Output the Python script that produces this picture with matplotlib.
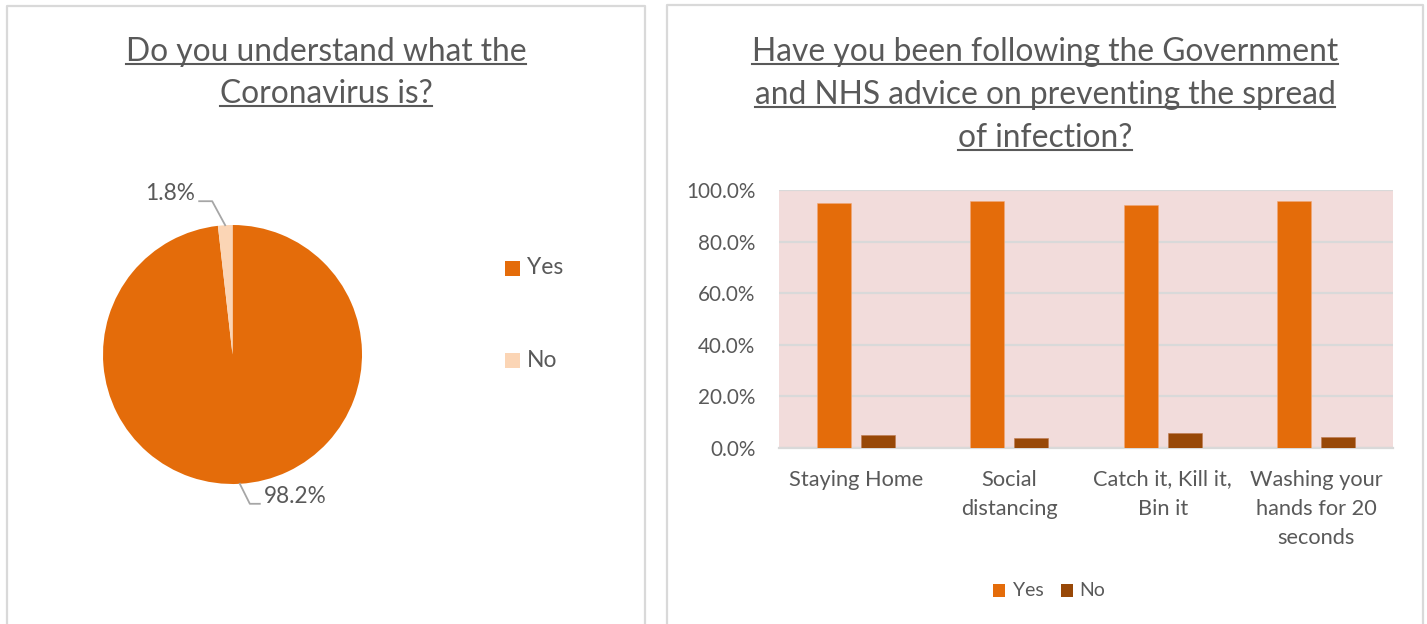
import matplotlib
matplotlib.use("Agg")
import matplotlib.pyplot as plt
from matplotlib.lines import Line2D
from matplotlib.patches import Rectangle
import numpy as np

# ---------------- data ----------------
pie_title = ["Do you understand what the", "Coronavirus is?"]
pie_labels = ["Yes", "No"]
pie_values = [98.2, 1.8]
pie_colors = ["#E46C0A", "#FBD5B5"]

bar_title = ["Have you been following the Government",
             "and NHS advice on preventing the spread",
             "of infection?"]
bar_categories = ["Staying Home", "Social\ndistancing",
                  "Catch it, Kill it,\nBin it", "Washing your\nhands for 20\nseconds"]
bar_yes = [0.948, 0.957, 0.942, 0.956]
bar_no = [0.049, 0.039, 0.057, 0.043]
bar_series = ["Yes", "No"]
bar_colors = ["#E46C0A", "#984807"]
y_ticks = [0.0, 0.2, 0.4, 0.6, 0.8, 1.0]

# ---------------- style ----------------
W, H = 1427, 624
TXT = "#595959"
GRID = "#D9D9D9"
FONT = "Lato"
plt.rcParams["font.family"] = [FONT, "DejaVu Sans"]

fig = plt.figure(figsize=(W / 100, H / 100), dpi=100)


def fx(px):
    return px / W


def fy(py):
    return 1 - py / H


# panel borders (open at the bottom)
for x0, x1, y0 in [(7, 645, 6), (667, 1423, 5)]:
    fig.add_artist(Line2D([fx(x0), fx(x0), fx(x1), fx(x1)],
                          [fy(H + 5), fy(y0), fy(y0), fy(H + 5)],
                          transform=fig.transFigure, color=GRID, lw=1.6))

# ---------------- titles (underlined) ----------------
title_texts = []
for lines, cx, base0, step in [(pie_title, 326, 61.0, 42.0),
                                (bar_title, 1045, 61.0, 43.0)]:
    for i, line in enumerate(lines):
        t = fig.text(fx(cx), fy(base0 + i * step), line, ha="center",
                     va="baseline", fontsize=22.9, color=TXT)
        title_texts.append(t)

# ---------------- pie ----------------
pcx, pcy, pr = 232.5, 354.5, 129.5
axp = fig.add_axes([fx(pcx - pr), fy(pcy + pr), fx(2 * pr), 2 * pr / H])
wedges, _ = axp.pie(pie_values, colors=pie_colors, startangle=90,
                    counterclock=False, radius=1.0,
                    wedgeprops=dict(linewidth=0))
axp.set_xlim(-1, 1)
axp.set_ylim(-1, 1)
axp.set_aspect("equal")
axp.axis("off")

# pie data labels with leader lines
total = sum(pie_values)
start = 90.0
label_specs = []
for v in pie_values:
    sweep = v / total * 360.0
    mid = start - sweep / 2
    label_specs.append(mid)
    start -= sweep

fig.canvas.draw()
leader_offsets = [(1, (10, -20), 10), (-1, (-13, 24), -13)]  # (dir, elbow, horizontal)
for v, mid, (d, elbow, hor) in zip(pie_values, label_specs, leader_offsets):
    ex, ey = np.cos(np.radians(mid)), np.sin(np.radians(mid))
    px, py = axp.transData.transform((ex, ey))
    pts_x = [px, px + elbow[0], px + elbow[0] + hor]
    pts_y = [py, py + elbow[1], py + elbow[1]]
    fig.add_artist(Line2D(pts_x, pts_y, transform=None, color="#A6A6A6", lw=1.3))
    tx = pts_x[-1] + (4 if d > 0 else -4)
    fig.text(tx / W, (pts_y[-1] + 1) / H, f"{v:.1f}%",
             ha="left" if d > 0 else "right", va="baseline",
             fontsize=16.3, color=TXT)

# pie legend
for i, (lab, col) in enumerate(zip(pie_labels, pie_colors)):
    cy = 268 + i * 92.5
    fig.add_artist(Rectangle((fx(505), fy(cy + 7.5)), fx(15), 15 / H,
                             transform=fig.transFigure, color=col, lw=0))
    fig.text(fx(527), fy(cy), lab, ha="left", va="center", fontsize=16.5, color=TXT)

# ---------------- bars ----------------
axb = fig.add_axes([fx(779), fy(448), fx(1393 - 779), (448 - 190) / H])
axb.set_facecolor("#F2DCDB")
x = np.arange(len(bar_categories))
bw, off = 0.224, 0.143
axb.bar(x - off, bar_yes, width=bw, color=bar_colors[0], zorder=3,
        edgecolor="#F0A878", linewidth=0.4)
axb.bar(x + off, bar_no, width=bw, color=bar_colors[1], zorder=3,
        edgecolor="#C07A50", linewidth=0.4)
axb.set_xlim(-0.5, len(bar_categories) - 0.5)
axb.set_ylim(0, 1)
axb.set_yticks(y_ticks)
axb.set_yticklabels([f"{v * 100:.1f}%" for v in y_ticks])
axb.set_xticks(x)
axb.set_xticklabels(bar_categories, linespacing=1.58)
axb.grid(axis="y", color=GRID, lw=1.6, zorder=1)
for s in ["left", "right", "top"]:
    axb.spines[s].set_visible(False)
axb.spines["bottom"].set_color(GRID)
axb.spines["bottom"].set_linewidth(1.6)
axb.tick_params(axis="y", length=0, pad=17, labelsize=14.9, labelcolor=TXT)
axb.tick_params(axis="x", length=0, pad=15.5, labelsize=15.7, labelcolor=TXT)

# bar legend
leg = [(993, 1013), (1061, 1079)]
for (sx, tx), lab, col in zip(leg, bar_series, bar_colors):
    fig.add_artist(Rectangle((fx(sx), fy(597)), fx(12), 13 / H,
                             transform=fig.transFigure, color=col, lw=0))
    fig.text(fx(tx), fy(590.5), lab, ha="left", va="center", fontsize=14, color=TXT)

# underline titles
fig.canvas.draw()
r = fig.canvas.get_renderer()
for t in title_texts:
    bb = t.get_window_extent(r)
    yb = t.get_position()[1] * H - 3
    fig.add_artist(Line2D([bb.x0, bb.x1], [yb, yb], transform=None, color=TXT, lw=1.5))

fig.savefig("out.png", dpi=100)
